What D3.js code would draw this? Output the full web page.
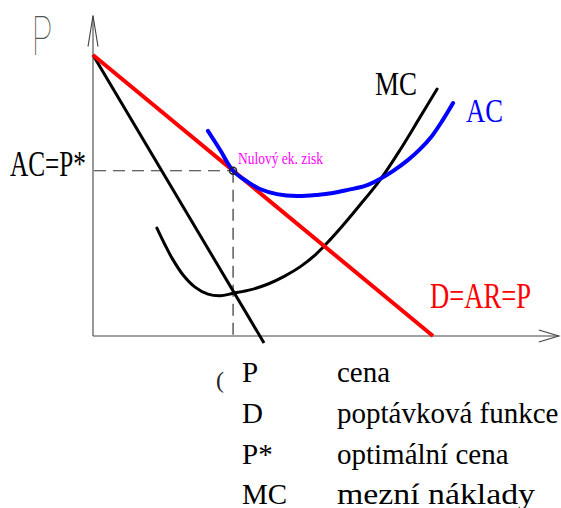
<!DOCTYPE html>
<html>
<head>
<meta charset="utf-8">
<script src="https://cdn.jsdelivr.net/npm/d3@7"></script>
<style>
  html, body { margin: 0; padding: 0; background: #fff; }
  svg { display: block; }
</style>
</head>
<body>
<svg id="chart" width="561" height="508"></svg>
<script>
// Quantity Q on the horizontal axis, price P on the vertical axis.
const demand = [[0, 10], [10, 0]];                 // D = AR = P
const marginalRevenue = [[0, 10], [5.03, -0.25]];  // MR
const averageCost = [
  [3.38, 7.30], [3.74, 6.62], [4.12, 5.88], [4.53, 5.50], [4.91, 5.23],
  [5.41, 5.05], [6.00, 4.98], [6.59, 5.02], [7.06, 5.09], [7.50, 5.20],
  [8.00, 5.34], [8.44, 5.59], [8.82, 5.87], [9.26, 6.26], [9.62, 6.65],
  [9.97, 7.12], [10.29, 7.69], [10.59, 8.29]
];
const marginalCost = [
  [1.88, 3.84], [2.12, 3.24], [2.32, 2.78], [2.65, 2.17], [3.00, 1.74],
  [3.38, 1.49], [3.74, 1.43], [4.12, 1.52], [4.62, 1.64], [5.15, 1.85],
  [5.65, 2.14], [6.09, 2.46], [6.53, 2.88], [6.97, 3.42], [7.41, 4.02],
  [7.85, 4.66], [8.44, 5.55], [9.03, 6.62], [9.62, 7.79], [10.12, 8.79]
];
const optimum = [4.12, 5.88];   // Q*, P* where AC touches D
const axisExtent = { qMax: 13.7, pMax: 11.4 };

const legendKeys = ["P", "D", "P*", "MC"];
const legendTexts = ["cena", "poptávková funkce", "optimální cena", "mezní náklady"];

const SERIF = '"Liberation Serif", "Times New Roman", serif';
const THIN = 'Inter, Lato, "DejaVu Sans", sans-serif';

const svg = d3.select("#chart");
const x = d3.scaleLinear().domain([0, 10]).range([93, 433]);
const y = d3.scaleLinear().domain([0, 10]).range([336, 55]);

const line = d3.line().x(d => x(d[0])).y(d => y(d[1]));
const smooth = d3.line().x(d => x(d[0])).y(d => y(d[1])).curve(d3.curveCatmullRom.alpha(0.5));

// axes with open arrow heads
const ax = svg.append("g").attr("stroke", "#444").attr("stroke-width", 1.1).attr("fill", "none");
ax.append("line").attr("x1", x(0)).attr("y1", y(0)).attr("x2", x(0)).attr("y2", y(axisExtent.pMax));
ax.append("path").attr("d", `M${x(0) - 5},${y(axisExtent.pMax) + 31}L${x(0)},${y(axisExtent.pMax)}L${x(0) + 5},${y(axisExtent.pMax) + 31}`);
ax.append("line").attr("x1", x(0)).attr("y1", y(0)).attr("x2", x(axisExtent.qMax)).attr("y2", y(0));
ax.append("path").attr("d", `M${x(axisExtent.qMax) - 20},${y(0) - 6}L${x(axisExtent.qMax)},${y(0)}L${x(axisExtent.qMax) - 20},${y(0) + 6}`);

// guide lines to P* and Q*
const guides = svg.append("g").attr("stroke", "#333").attr("stroke-width", 1.2).attr("stroke-dasharray", "12,7").attr("fill", "none");
guides.append("line").attr("x1", x(0) + 1).attr("y1", y(optimum[1])).attr("x2", x(optimum[0])).attr("y2", y(optimum[1]));
guides.append("line").attr("x1", x(optimum[0])).attr("y1", y(optimum[1])).attr("x2", x(optimum[0])).attr("y2", y(0));

// curves
svg.append("path").attr("d", line(marginalRevenue)).attr("stroke", "#000").attr("stroke-width", 3).attr("fill", "none");
svg.append("path").attr("d", smooth(marginalCost)).attr("stroke", "#000").attr("stroke-width", 3).attr("fill", "none").attr("stroke-linecap", "round");
svg.append("path").attr("d", line(demand)).attr("stroke", "#ff0000").attr("stroke-width", 4).attr("fill", "none");
svg.append("path").attr("d", smooth(averageCost)).attr("stroke", "#0000ff").attr("stroke-width", 4).attr("fill", "none").attr("stroke-linecap", "round");

svg.append("circle").attr("cx", x(optimum[0])).attr("cy", y(optimum[1])).attr("r", 3.5)
  .attr("fill", "none").attr("stroke", "#222").attr("stroke-width", 1.5);

// labels
function label(text, px, py, size, color, width) {
  const t = svg.append("text").attr("x", px).attr("y", py)
    .style("font-family", SERIF).style("font-size", size + "px").attr("fill", color).text(text);
  if (width) t.attr("textLength", width).attr("lengthAdjust", "spacingAndGlyphs");
  return t;
}
svg.append("text").attr("x", 31).attr("y", 55)
  .style("font-family", THIN).style("font-weight", 100).style("font-size", "53px").attr("fill", "#555")
  .attr("textLength", 22).attr("lengthAdjust", "spacingAndGlyphs").text("P");
label("AC=P*", 10, 176, 35, "#000", 76);
label("MC", 375, 95, 33, "#000", 42);
label("AC", 466, 122, 34, "#0000ff", 37);
label("D=AR=P", 430, 308, 35, "#ff0000", 101);
label("Nulový ek. zisk", 238, 164, 16, "#ff00ff", 85);

// legend
svg.append("text").attr("x", 216).attr("y", 388).style("font-family", SERIF).style("font-size", "24px").attr("fill", "#222").text("(");
const rows = [382, 423, 464, 504];
const legendWidths = [null, null, null, 198];
legendKeys.forEach((k, i) => {
  label(k, 242, rows[i], 29, "#000");
  label(legendTexts[i], 337, rows[i], 29, "#000", legendWidths[i]);
});
</script>
</body>
</html>
